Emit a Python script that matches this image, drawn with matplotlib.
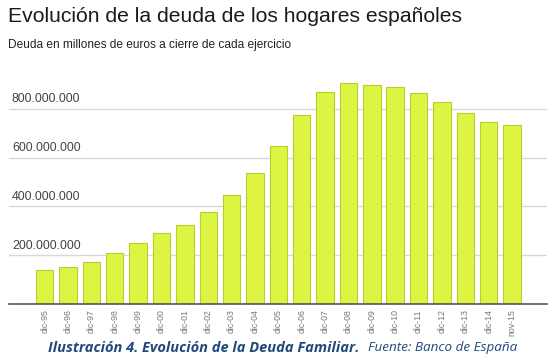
import matplotlib
matplotlib.use('Agg')
import matplotlib.pyplot as plt
import matplotlib.transforms as mtransforms

periods = ['dic-95', 'dic-96', 'dic-97', 'dic-98', 'dic-99', 'dic-00', 'dic-01',
           'dic-02', 'dic-03', 'dic-04', 'dic-05', 'dic-06', 'dic-07', 'dic-08',
           'dic-09', 'dic-10', 'dic-11', 'dic-12', 'dic-13', 'dic-14', 'nov-15']
deuda = [138e6, 151e6, 172e6, 207e6, 248e6, 289e6, 322e6,
         377e6, 448e6, 536e6, 648e6, 774e6, 869e6, 908e6,
         899e6, 891e6, 867e6, 828e6, 782e6, 745e6, 733e6]
yticks = [200e6, 400e6, 600e6, 800e6]

plt.rcParams['font.family'] = ['Liberation Sans', 'DejaVu Sans']

fig = plt.figure(figsize=(5.56, 3.64), dpi=100)
ax = fig.add_axes([0.0167, 0.1657, 0.9666, 0.6557])

x = list(range(len(periods)))
ax.bar(x, deuda, width=0.745, color='#DDF542', edgecolor='#B5CF2D', linewidth=0.8, zorder=3)

ax.set_xlim(-1.515, len(periods) - 1 + 1.485)
ax.set_ylim(0, 980e6)

ax.set_yticks(yticks)
ax.yaxis.grid(True, color='#D9D9D9', linewidth=1, zorder=0)
ax.tick_params(axis='y', length=0, labelleft=False)

# y labels sit inside the plot, just above each gridline
trans = mtransforms.blended_transform_factory(ax.transAxes, ax.transData)
for v in yticks:
    lab = f'{int(v):,}'.replace(',', '.')
    ax.text(0.005, v + 14e6, lab, transform=trans, fontsize=8.9, color='#444444',
            ha='left', va='bottom')

ax.set_xticks(x)
ax.set_xticklabels(periods, rotation=90, fontsize=6.3, color='#777777')
ax.tick_params(axis='x', length=0, pad=4)

for s in ['top', 'right', 'left']:
    ax.spines[s].set_visible(False)
ax.spines['bottom'].set_color('#555555')
ax.spines['bottom'].set_linewidth(1.2)
ax.spines['bottom'].set_zorder(4)

fig.text(0.0145, 0.955, 'Evolución de la deuda de los hogares españoles',
         fontsize=15.2, color='#1a1a1a', ha='left', va='center')
fig.text(0.0145, 0.877, 'Deuda en millones de euros a cierre de cada ejercicio',
         fontsize=8.6, color='#222222', ha='left', va='center')

fig.text(0.087, 0.044, 'Ilustración 4. Evolución de la Deuda Familiar.',
         fontsize=10.5, color='#1F497D', ha='left', va='center',
         style='italic', weight='bold', family=['Open Sans', 'DejaVu Sans'])
fig.text(0.662, 0.044, 'Fuente: Banco de España',
         fontsize=9.7, color='#1F497D', ha='left', va='center',
         style='italic', family=['Open Sans', 'DejaVu Sans'])

fig.savefig('out.png', dpi=100)
